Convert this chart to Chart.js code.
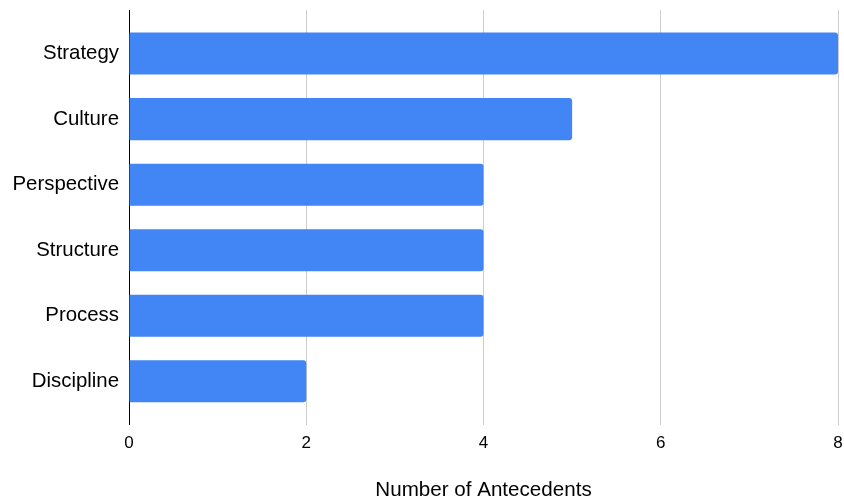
<!DOCTYPE html>
<html>
<head>
<meta charset="utf-8">
<script src="https://cdn.jsdelivr.net/npm/chart.js@4/dist/chart.umd.min.js"></script>
<style>
  html, body { margin: 0; padding: 0; background: #ffffff; }
  #wrap { position: relative; width: 844px; height: 503px; }
</style>
</head>
<body>
<div id="wrap"><canvas id="chart"></canvas></div>
<script>
// Antecedent counts per category
const categories = ['Strategy', 'Culture', 'Perspective', 'Structure', 'Process', 'Discipline'];
const antecedents = [8, 5, 4, 4, 4, 2];
const xTicks = [0, 2, 4, 6, 8];
const xTitle = 'Number of Antecedents';

const FONT = '"Liberation Sans", Arial, Helvetica, sans-serif';
const BAR = '#4285F4';
// extra room above the first and below the last category, in category units
const EDGE = 0.165;

new Chart(document.getElementById('chart'), {
  type: 'bar',
  data: {
    labels: categories,
    datasets: [{
      data: antecedents,
      backgroundColor: BAR,
      borderWidth: 0,
      borderRadius: 3,
      categoryPercentage: 1,
      barPercentage: 0.642
    }]
  },
  options: {
    indexAxis: 'y',
    responsive: true,
    maintainAspectRatio: false,
    animation: false,
    layout: { padding: { top: 10, right: 6, left: 0, bottom: 0 } },
    plugins: { legend: { display: false }, tooltip: { enabled: false } },
    scales: {
      x: {
        min: xTicks[0],
        max: xTicks[xTicks.length - 1],
        afterBuildTicks: (s) => { s.ticks = xTicks.map(v => ({ value: v })); },
        afterFit: (s) => { s.paddingLeft = 0; s.paddingRight = 0; },
        grid: {
          color: (ctx) => ctx.tick && ctx.tick.value === 0 ? 'rgba(0,0,0,0)' : '#cccccc',
          lineWidth: 1,
          drawTicks: false
        },
        border: { display: false },
        ticks: {
          color: '#000000',
          padding: 8,
          font: { family: FONT, size: 17 }
        },
        title: {
          display: true,
          text: xTitle,
          color: '#000000',
          font: { family: FONT, size: 20.6 },
          padding: { top: 17, bottom: 0 }
        }
      },
      y: {
        afterFit: (s) => { s.width = 129; s.paddingTop = 0; s.paddingBottom = 0; },
        afterBuildTicks: (s) => {
          const n = s.getLabels().length;
          s._startValue = -0.5 - EDGE;
          s._valueRange = n + 2 * EDGE;
        },
        grid: { display: false, drawTicks: false },
        border: { display: true, color: '#000000', width: 1 },
        ticks: {
          color: '#000000',
          padding: 10,
          font: { family: FONT, size: 20.4 }
        }
      }
    }
  }
});
</script>
</body>
</html>
